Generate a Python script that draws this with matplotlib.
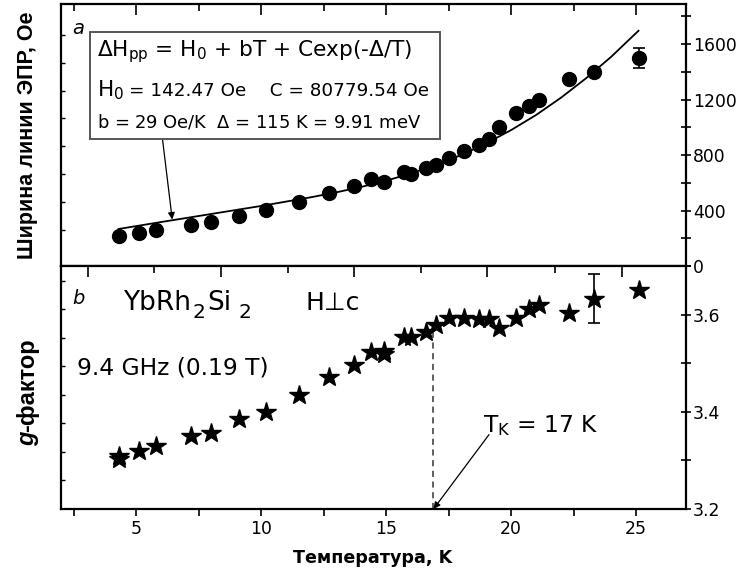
import matplotlib
matplotlib.use("Agg")
import matplotlib.pyplot as plt
from matplotlib.ticker import MultipleLocator, FixedLocator, FormatStrFormatter

plt.rcParams['font.family'] = ['DejaVu Sans']
plt.rcParams['mathtext.fontset'] = 'dejavusans'

# ---------------- data ----------------
T_top = [4.3, 5.1, 5.8, 7.2, 8.0, 9.1, 10.2, 11.5, 12.7, 13.7, 14.4, 14.9, 15.7,
         16.0, 16.6, 17.0, 17.5, 18.1, 18.7, 19.1, 19.5, 20.2, 20.7, 21.1, 22.3,
         23.3, 25.1]
dH = [216, 238, 259, 295, 317, 360, 403, 461, 526, 576, 626, 605, 677,
      662, 706, 727, 778, 828, 871, 914, 1000, 1102, 1152, 1195, 1346,
      1397, 1498]
dH_err_T = [25.1]
dH_err_val = [1498]
dH_err = [72]

fit_T = [4.3, 6, 8, 10, 12, 13, 14, 15, 16, 17, 18, 19, 20, 21, 22, 23, 24, 25.1]
fit_dH = [267, 317, 375, 433, 496, 531, 570, 615, 668, 729, 800, 884, 980,
          1089, 1214, 1354, 1508, 1697]

T_bot = [4.3, 4.3, 5.1, 5.8, 7.2, 8.0, 9.1, 10.2, 11.5, 12.7, 13.7, 14.4, 14.9,
         14.9, 15.7, 16.0, 16.6, 17.0, 17.5, 18.1, 18.7, 19.1, 19.5, 20.2, 20.7,
         21.1, 22.3, 23.3, 25.1]
g_val = [3.309, 3.302, 3.320, 3.330, 3.350, 3.357, 3.386, 3.400, 3.435, 3.472,
         3.497, 3.524, 3.526, 3.519, 3.553, 3.553, 3.565, 3.579, 3.594, 3.594,
         3.591, 3.591, 3.573, 3.592, 3.612, 3.620, 3.604, 3.633, 3.650]
g_err_T = [23.3]
g_err_val = [3.633]
g_err = [0.05]

T_K = 16.9
g_TK = 3.565

x_ticks = [5, 10, 15, 20, 25]
top_yticks = [0, 400, 800, 1200, 1600]
bot_yticks = [3.2, 3.4, 3.6]

W, H = 741, 578
fig = plt.figure(figsize=(W / 100, H / 100), dpi=100)

def fx(px):
    return px / W

def fy(py):
    return 1 - py / H

L, R = 61, 686
ax_t = fig.add_axes([fx(L), fy(266), fx(R - L), (266 - 4) / H])
ax_b = fig.add_axes([fx(L), fy(509), fx(R - L), (509 - 266) / H])

# small left ticks (twins made first, they reset tick sides)
for ax, start, step in ((ax_t, 0.137, 0.1065), (ax_b, 0.119, 0.117)):
    lt = ax.twinx()
    lt.set_ylim(0, 1)
    lt.yaxis.tick_left()
    lt.set_yticks([start + k * step for k in range(8)])
    lt.tick_params(axis='y', direction='in', length=3, width=1.0, labelleft=False,
                   labelright=False, left=True, right=False)
    for s in lt.spines.values():
        s.set_visible(False)

# odd top ticks of bottom panel
tw = ax_b.twiny()
tw.set_xlim(2, 27)
tw.xaxis.set_major_locator(FixedLocator([3.08, 8.4, 13.72, 19.04, 24.44]))
tw.xaxis.set_minor_locator(FixedLocator([5.72, 11.08, 16.4, 21.76]))
tw.tick_params(axis='x', which='major', direction='in', length=8, width=1.2,
               labeltop=False, top=True, bottom=False)
tw.tick_params(axis='x', which='minor', direction='in', length=5, width=1.2,
               top=True, bottom=False)
for s in tw.spines.values():
    s.set_visible(False)

for ax in (ax_t, ax_b):
    ax.set_xlim(2, 27)
    for s in ax.spines.values():
        s.set_linewidth(1.6)
    ax.yaxis.tick_right()
    ax.yaxis.set_label_position('right')

# ---------------- top panel ----------------
ax_t.set_ylim(0, 1890)
ax_t.plot(fit_T, fit_dH, color='black', lw=1.3, zorder=2)
ax_t.plot(T_top, dH, 'o', color='black', ms=10, zorder=3)
ax_t.errorbar(dH_err_T, dH_err_val, yerr=dH_err, fmt='none', ecolor='black',
              elinewidth=1.2, capsize=4, capthick=1.2, zorder=3)
ax_t.set_yticks(top_yticks)
ax_t.yaxis.set_minor_locator(MultipleLocator(200))
ax_t.tick_params(axis='y', which='both', direction='inout', length=7, width=1.2,
                 labelsize=12.4, pad=1.5, right=True, left=False,
                 labelright=True, labelleft=False)
ax_t.set_xticks(x_ticks)
ax_t.xaxis.set_minor_locator(MultipleLocator(2.5))
ax_t.xaxis.tick_top()
ax_t.tick_params(axis='x', which='major', direction='in', length=8, width=1.2,
                 labeltop=False, labelbottom=False, top=True, bottom=False)
ax_t.tick_params(axis='x', which='minor', direction='in', length=5, width=1.2,
                 top=True, bottom=False)

ax_t.text(0.018, 0.908, 'a', transform=ax_t.transAxes, fontsize=14,
          style='italic', ha='left', va='center')

box = plt.Rectangle(((90 - L) / (R - L), (266 - 139) / 262),
                    (440 - 90) / (R - L), (139 - 32) / 262,
                    transform=ax_t.transAxes, fill=True, facecolor='white',
                    edgecolor='#555555', lw=1.4, zorder=4)
ax_t.add_patch(box)

ax_t.text((97 - L) / (R - L), (266 - 56) / 262,
          r'$\Delta$H$_{\rm pp}$ = H$_0$ + bT + Cexp(-$\Delta$/T)',
          transform=ax_t.transAxes, fontsize=15.6, ha='left', va='baseline', zorder=5)
ax_t.text((97 - L) / (R - L), (266 - 96) / 262, r'H$_0$',
          transform=ax_t.transAxes, fontsize=15.6, ha='left', va='baseline', zorder=5)
ax_t.text((129 - L) / (R - L), (266 - 96) / 262, '= 142.47 Oe    C = 80779.54 Oe',
          transform=ax_t.transAxes, fontsize=13.2, ha='left', va='baseline', zorder=5)
ax_t.text((97 - L) / (R - L), (266 - 128) / 262,
          r'b = 29 Oe/K  $\Delta$ = 115 K = 9.91 meV',
          transform=ax_t.transAxes, fontsize=12.9, ha='left', va='baseline', zorder=5)

ax_t.annotate('', xy=(6.45, 335), xytext=(6.05, 930),
              arrowprops=dict(arrowstyle='-|>', color='black', lw=0.9,
                              mutation_scale=10, shrinkA=0, shrinkB=0), zorder=3)

# ---------------- bottom panel ----------------
ax_b.set_ylim(3.2, 3.7)
ax_b.plot(T_bot, g_val, '*', color='black', ms=14.5, zorder=3)
ax_b.errorbar(g_err_T, g_err_val, yerr=g_err, fmt='none', ecolor='black',
              elinewidth=1.2, capsize=4, capthick=1.2, zorder=3)
ax_b.plot([T_K, T_K], [3.2, g_TK], ls=(0, (4, 3)), color='#333333', lw=1.1, zorder=2)
ax_b.annotate('', xy=(T_K, 3.2), xytext=(19.12, 3.353),
              arrowprops=dict(arrowstyle='-|>', color='black', lw=0.9,
                              mutation_scale=10, shrinkA=0, shrinkB=0))

ax_b.set_yticks(bot_yticks)
ax_b.yaxis.set_minor_locator(MultipleLocator(0.1))
ax_b.yaxis.set_major_formatter(FormatStrFormatter('%.1f'))
ax_b.tick_params(axis='y', which='both', direction='inout', length=7, width=1.2,
                 labelsize=12.4, pad=1.5, right=True, left=False,
                 labelright=True, labelleft=False)
ax_b.set_xticks(x_ticks)
ax_b.xaxis.set_minor_locator(MultipleLocator(2.5))
ax_b.tick_params(axis='x', which='both', direction='out', length=5, width=1.2,
                 labelsize=12.4, pad=3, top=False, bottom=True)

ax_b.text(0.018, 0.868, 'b', transform=ax_b.transAxes, fontsize=14,
          style='italic', ha='left', va='center')

# YbRh2Si2 with low subscripts
yb = (509 - 310) / 243
sub = (509 - 318) / 243
def bx(px):
    return (px - L) / (R - L)
ax_b.text(bx(123), yb, 'YbRh', transform=ax_b.transAxes, fontsize=19,
          ha='left', va='baseline')
ax_b.text(bx(193), sub, '2', transform=ax_b.transAxes, fontsize=14.5,
          ha='left', va='baseline')
ax_b.text(bx(207), yb, 'Si', transform=ax_b.transAxes, fontsize=19,
          ha='left', va='baseline')
ax_b.text(bx(238), sub, '2', transform=ax_b.transAxes, fontsize=14.5,
          ha='left', va='baseline')
ax_b.text(bx(305), yb, 'H\u22a5c', transform=ax_b.transAxes, fontsize=18,
          ha='left', va='baseline')
ax_b.text(bx(77), (509 - 375) / 243, '9.4 GHz (0.19 T)',
          transform=ax_b.transAxes, fontsize=16.8, ha='left', va='baseline')
ax_b.text(bx(483), (509 - 432) / 243, r'T$_{\rm K}$ = 17 K',
          transform=ax_b.transAxes, fontsize=16.8, ha='left', va='baseline')

# axis labels
fig.text(fx(373), fy(558), 'Температура, K', fontsize=12.6, fontweight='bold',
         ha='center', va='center')
fig.text(fx(28), fy(135), 'Ширина линии ЭПР, Oe', fontsize=15.5, fontweight='bold',
         family='Liberation Sans', rotation=90, ha='center', va='center')
fig.text(fx(28), fy(446), 'g', fontsize=17, fontweight='bold', style='italic',
         family='Liberation Sans', rotation=90, ha='center', va='bottom')
fig.text(fx(28), fy(432), '-фактор', fontsize=17, fontweight='bold',
         family='Liberation Sans', rotation=90, ha='center', va='bottom')

fig.savefig('out.png', dpi=100)
